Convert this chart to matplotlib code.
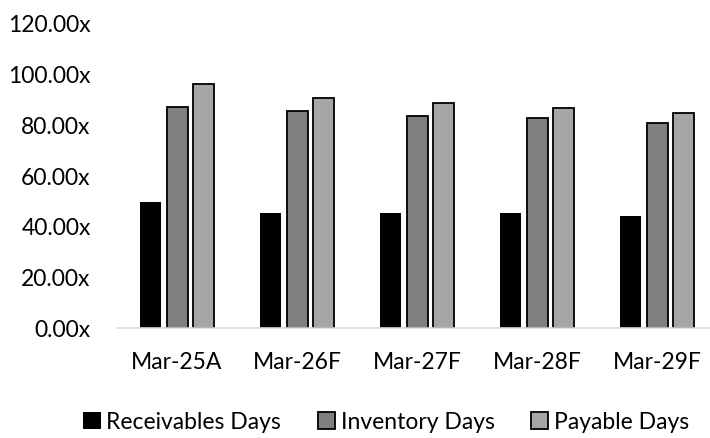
import numpy as np
import matplotlib.pyplot as plt
from matplotlib.ticker import FuncFormatter

OUTPUT_GRAPH_FILE = "out.png"

periods = ["Mar-25A", "Mar-26F", "Mar-27F", "Mar-28F", "Mar-29F"]
receivables_days = [49.5, 45.0, 45.0, 45.0, 44.0]
inventory_days = [87.0, 85.5, 83.5, 82.5, 80.5]
payable_days = [96.0, 90.5, 88.5, 86.5, 84.5]

series = [
    ("Receivables Days", receivables_days, "#000000"),
    ("Inventory Days", inventory_days, "#808080"),
    ("Payable Days", payable_days, "#a6a6a6"),
]

plt.rcParams['font.family'] = ['Lato', 'DejaVu Sans']

fig = plt.figure(figsize=(7.1, 4.39), dpi=100)
ax = fig.add_axes([117 / 710, (439 - 328.5) / 439, 600 / 710, 304.5 / 439])

x = np.arange(len(periods))
width = 0.175
step = 0.217
for i, (name, vals, color) in enumerate(series):
    ax.bar(x + (i - 1) * step, vals, width, color=color, label=name,
           edgecolor="#000000", linewidth=1.3 if i > 0 else 0)

ax.set_xlim(-0.5, len(periods) - 0.5)
ax.set_ylim(0, 120)
ax.set_yticks(np.arange(0, 121, 20))
ax.yaxis.set_major_formatter(FuncFormatter(lambda v, p: f"{v:.2f}x"))
ax.set_xticks(x)
ax.set_xticklabels(periods)
ax.tick_params(axis="both", length=0, labelsize=16.5, colors="#000000")
ax.tick_params(axis="y", pad=19)
ax.tick_params(axis="x", pad=17)

for side in ["top", "right", "left"]:
    ax.spines[side].set_visible(False)
ax.spines["bottom"].set_color("#d9d9d9")
ax.spines["bottom"].set_linewidth(1.2)

fig.legend(loc="center", bbox_to_anchor=(0.544, 1 - 423 / 439), ncol=3,
           frameon=False, fontsize=16.5, handlelength=0.75, handleheight=0.75,
           handletextpad=0.25, columnspacing=1.6, borderaxespad=0)

plt.savefig(OUTPUT_GRAPH_FILE)
plt.close(fig)
